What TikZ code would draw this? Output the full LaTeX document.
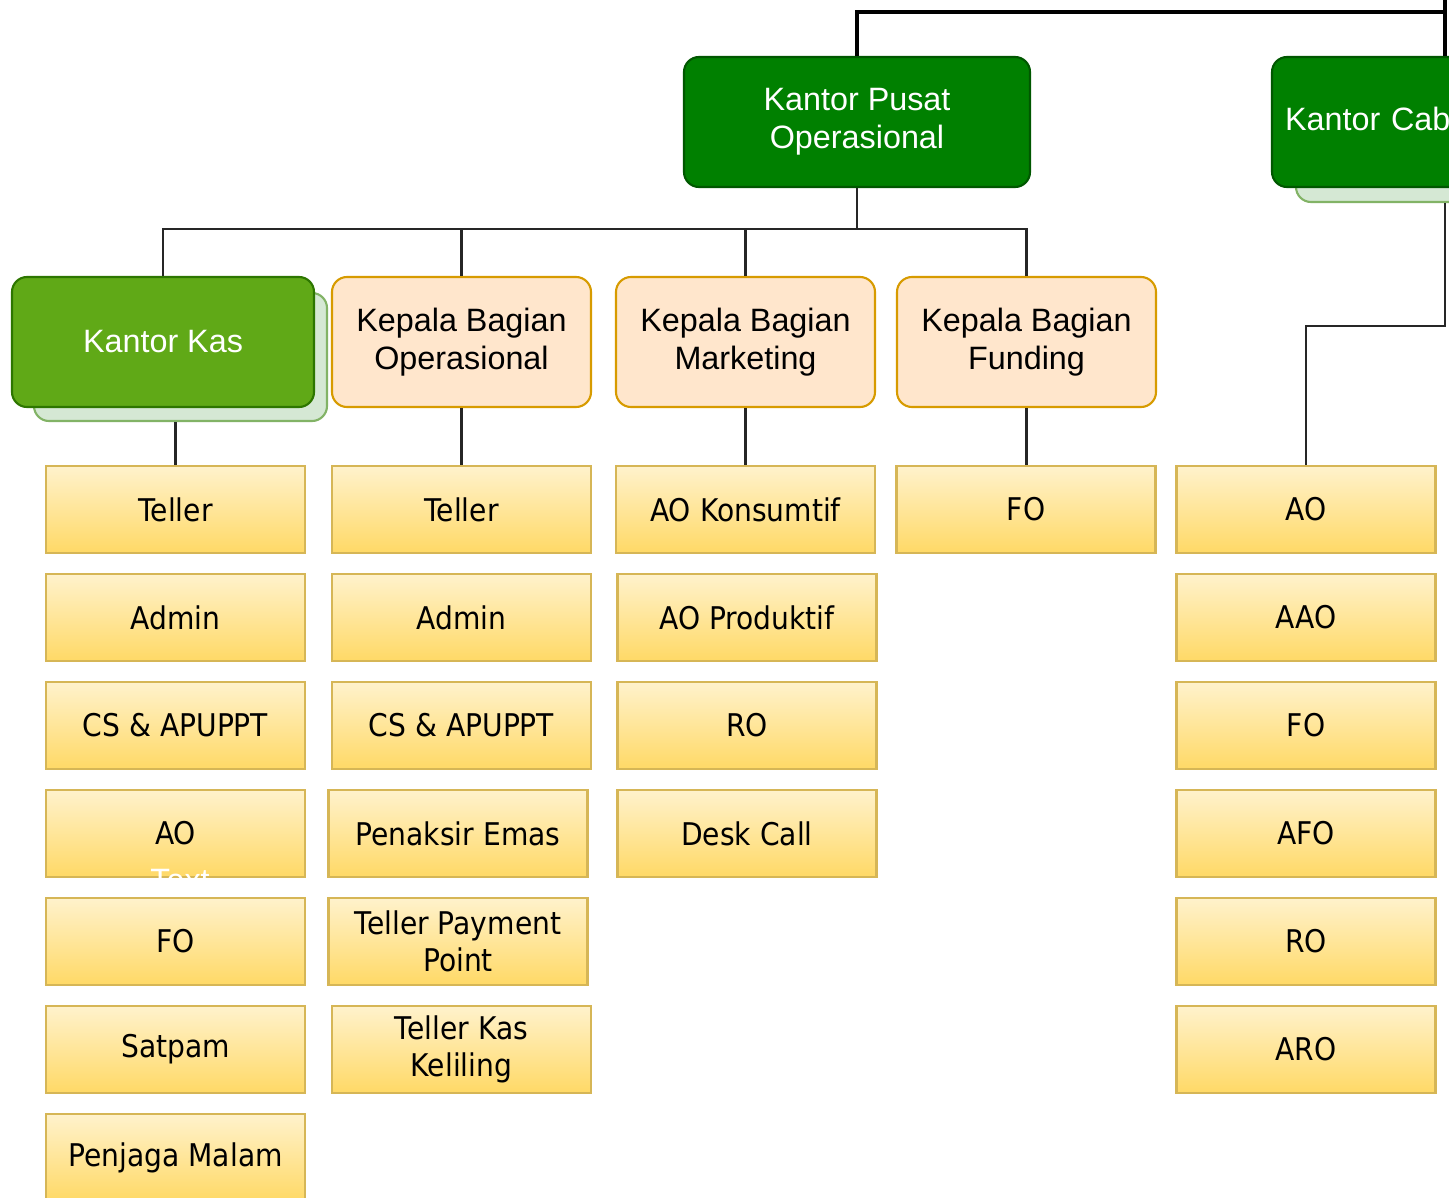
\documentclass[tikz,border=0pt]{standalone}
\usepackage{fontspec}
\setmainfont{Liberation Sans}
\newfontfamily\jobfont[FakeStretch=0.9]{DejaVu Sans}
\usetikzlibrary{positioning,calc}

\definecolor{pusatgreen}{HTML}{008000}
\definecolor{pusatline}{HTML}{005700}
\definecolor{kasgreen}{HTML}{60A917}
\definecolor{kasline}{HTML}{2D7600}
\definecolor{shadowfill}{HTML}{D5E8D4}
\definecolor{shadowline}{HTML}{82B366}
\definecolor{headfill}{HTML}{FFE6CC}
\definecolor{headline}{HTML}{D79B00}
\definecolor{jobtop}{HTML}{FFF2CC}
\definecolor{jobbottom}{HTML}{FFD966}
\definecolor{jobline}{HTML}{D6B656}

\begin{document}
\begin{tikzpicture}[
  office/.style={rectangle,rounded corners=0.15cm,draw=pusatline,fill=pusatgreen,text=white,line width=0.6pt,minimum width=3.46cm,minimum height=1.3cm,inner sep=0pt,align=center,font=\fontsize{9.2}{10.8}\selectfont},
  shadowbox/.style={rectangle,rounded corners=0.15cm,draw=shadowline,fill=shadowfill,line width=0.6pt,inner sep=0pt},
  headbox/.style={rectangle,rounded corners=0.15cm,draw=headline,fill=headfill,line width=0.6pt,minimum width=2.59cm,minimum height=1.3cm,inner sep=0pt,align=center,font=\fontsize{9.2}{10.8}\selectfont},
  jobbox/.style={rectangle,draw=jobline,top color=jobtop,bottom color=jobbottom,line width=0.6pt,minimum width=2.59cm,minimum height=0.87cm,inner sep=0pt,align=center,font=\jobfont\fontsize{8.9}{10.5}\selectfont},
  link/.style={draw=black!85,line width=0.6pt}
]
\useasboundingbox (0,0) rectangle (14.49,-11.98);
\clip (0,0) rectangle (14.49,-11.98);

% offices
\node[office, name=kantor_pusat] at (8.57,-1.22) {Kantor Pusat\\Operasional};
\node[shadowbox, minimum width=3.24cm, minimum height=1.2cm, name=cabang_shadow] at (14.58,-1.42) {};
\node[office, text width=3.2cm, align=left, name=kantor_cabang] at (14.45,-1.22) {Kantor Cabang};
\node[shadowbox, minimum width=2.93cm, minimum height=1.28cm, name=kas_shadow] at (1.805,-3.57) {};
\node[office, fill=kasgreen, draw=kasline, minimum width=3.02cm, name=kantor_kas] at (1.63,-3.42) {Kantor Kas};

% kepala bagian
\node[headbox, name=kb_ops] at (4.615,-3.42) {Kepala Bagian\\Operasional};
\node[headbox, name=kb_mkt] at (7.455,-3.42) {Kepala Bagian\\Marketing};
\node[headbox, name=kb_fund] at (10.265,-3.42) {Kepala Bagian\\Funding};

% kantor kas staff
\node[jobbox, name=teller_kas] at (1.755,-5.095) {Teller};
\node[jobbox, name=admin_kas] at (1.755,-6.175) {Admin};
\node[jobbox, name=cs_kas] at (1.755,-7.255) {CS \& APUPPT};
\node[jobbox, name=ao_kas] at (1.755,-8.335) {AO};
\node[text=white, anchor=base, font=\fontsize{9.2}{10.8}\selectfont, name=stray_text] at (1.80,-8.91) {Text};
\node[jobbox, name=fo_kas] at (1.755,-9.415) {FO};
\node[jobbox, name=satpam] at (1.755,-10.495) {Satpam};
\node[jobbox, name=penjaga] at (1.755,-11.575) {Penjaga Malam};

% operasional staff
\node[jobbox, name=teller_ops] at (4.615,-5.095) {Teller};
\node[jobbox, name=admin_ops] at (4.615,-6.175) {Admin};
\node[jobbox, name=cs_ops] at (4.615,-7.255) {CS \& APUPPT};
\node[jobbox, name=penaksir] at (4.58,-8.335) {Penaksir Emas};
\node[jobbox, name=payment_point] at (4.58,-9.415) {Teller Payment\\Point};
\node[jobbox, name=kas_keliling] at (4.615,-10.495) {Teller Kas\\Keliling};

% marketing staff
\node[jobbox, name=ao_konsumtif] at (7.455,-5.095) {AO Konsumtif};
\node[jobbox, name=ao_produktif] at (7.47,-6.175) {AO Produktif};
\node[jobbox, name=ro_mkt] at (7.47,-7.255) {RO};
\node[jobbox, name=desk_call] at (7.47,-8.335) {Desk Call};

% funding staff
\node[jobbox, name=fo_fund] at (10.26,-5.095) {FO};

% kantor cabang staff
\node[jobbox, name=ao_cab] at (13.06,-5.095) {AO};
\node[jobbox, name=aao_cab] at (13.06,-6.175) {AAO};
\node[jobbox, name=fo_cab] at (13.06,-7.255) {FO};
\node[jobbox, name=afo_cab] at (13.06,-8.335) {AFO};
\node[jobbox, name=ro_cab] at (13.06,-9.415) {RO};
\node[jobbox, name=aro_cab] at (13.06,-10.495) {ARO};

% lines
\coordinate (top_bar) at (14.45,-0.12);
\coordinate (pusat_bus) at (8.57,-2.29);
\draw[line width=0.9pt] (kantor_pusat.north) |- (top_bar);
\draw[line width=0.9pt] (kantor_cabang.north) -- (kantor_cabang.north |- 0,0);
\draw[link] (kantor_pusat.south) -- (pusat_bus) -| (kantor_kas.north);
\draw[link] (pusat_bus) -| (kb_ops.north);
\draw[link] (pusat_bus) -| (kb_mkt.north);
\draw[link] (pusat_bus) -| (kb_fund.north);
\draw[link] (teller_kas.north |- kas_shadow.south) -- (teller_kas.north);
\draw[link] (kb_ops.south) -- (kb_ops.south |- teller_ops.north);
\draw[link] (kb_mkt.south) -- (kb_mkt.south |- ao_konsumtif.north);
\draw[link] (kb_fund.south) -- (kb_fund.south |- fo_fund.north);
\draw[link] (kantor_cabang.south |- cabang_shadow.south) -- ++(0,-1.23) -| (ao_cab.north);
\end{tikzpicture}
\end{document}
